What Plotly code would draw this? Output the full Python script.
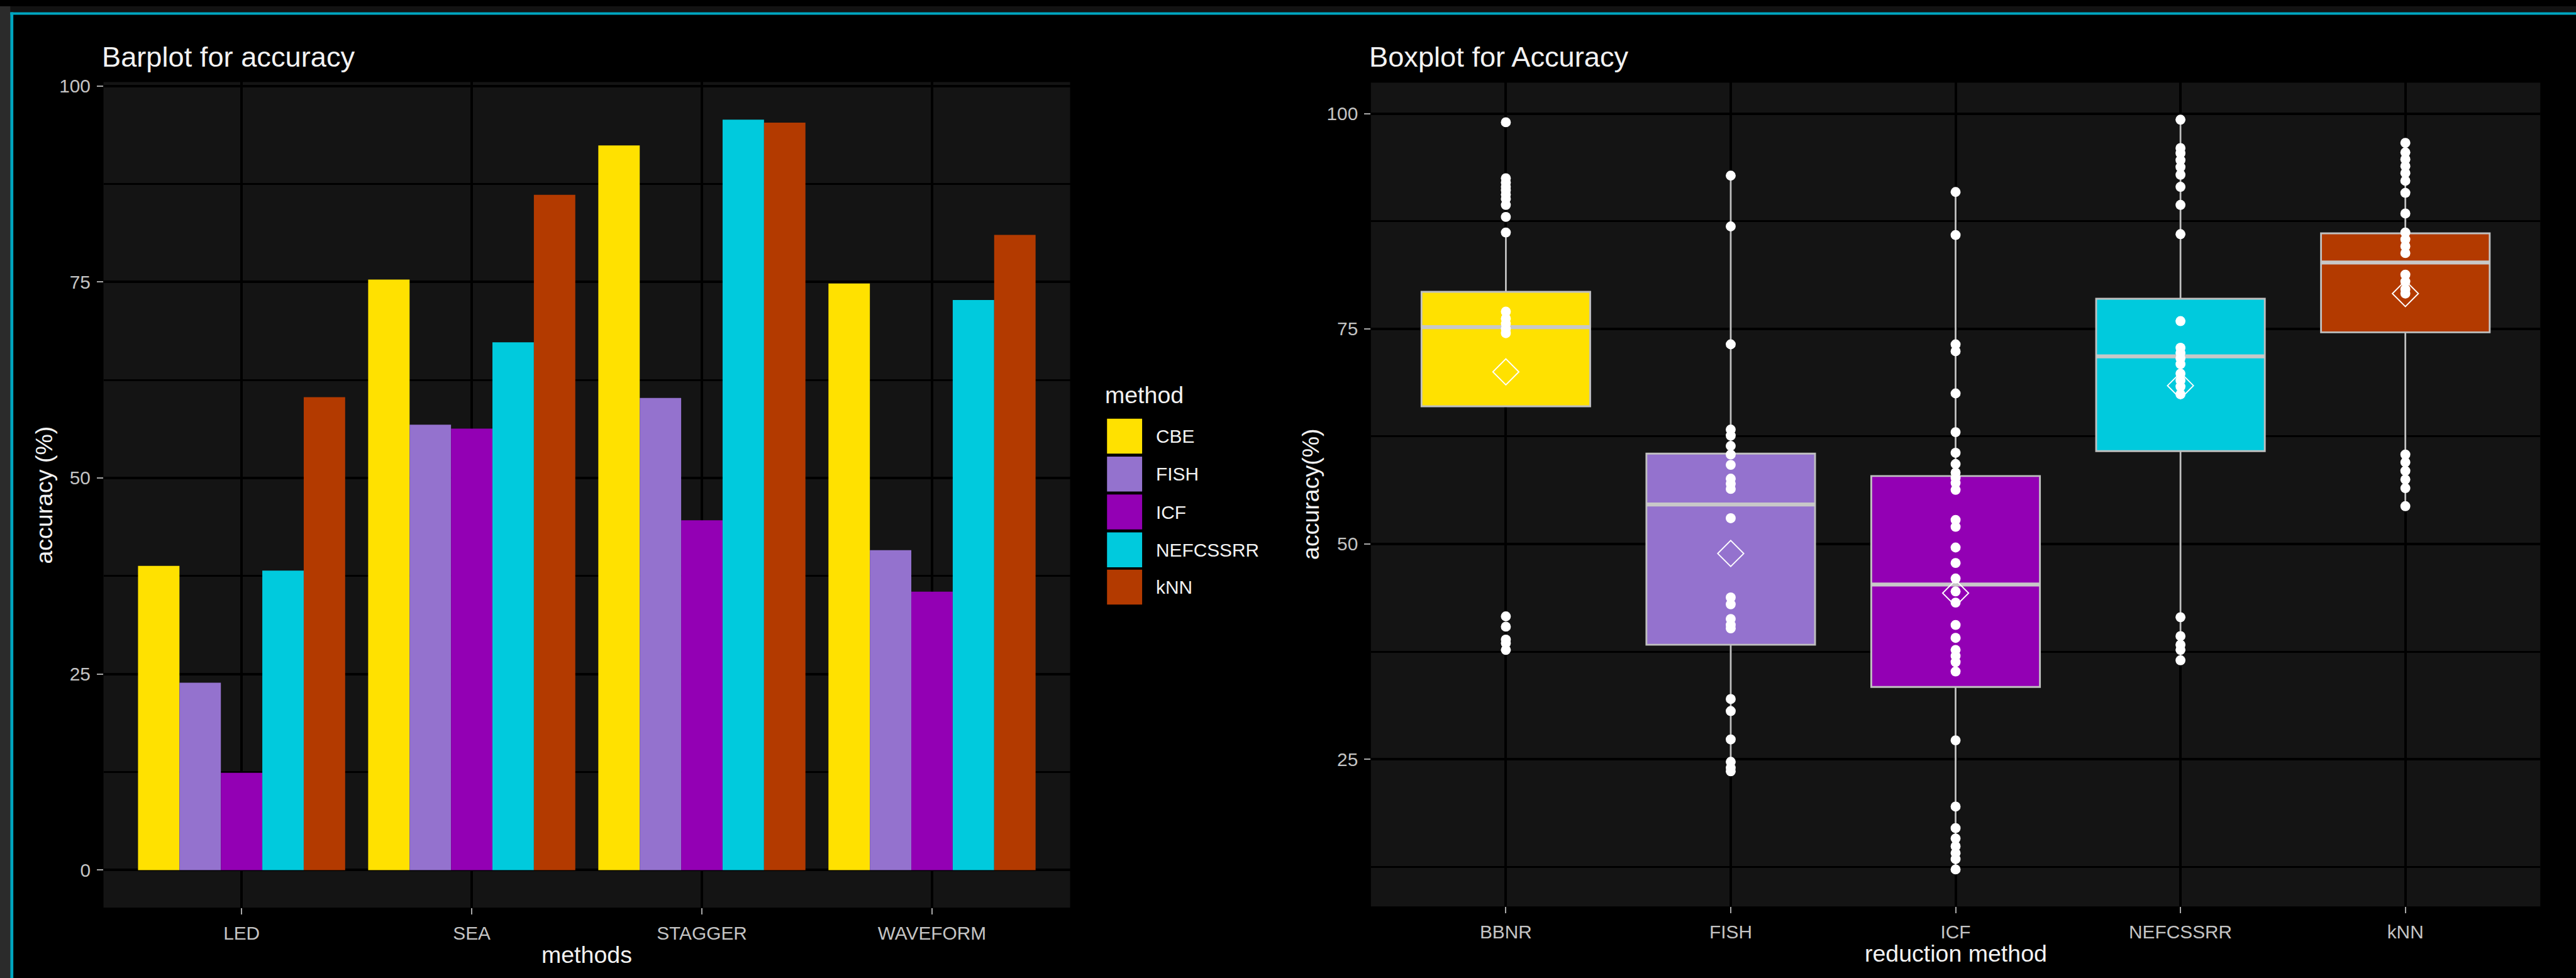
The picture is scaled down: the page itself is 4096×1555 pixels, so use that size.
import plotly.graph_objects as go

# ---------------- data ----------------
datasets = ["LED", "SEA", "STAGGER", "WAVEFORM"]
methods = ["CBE", "FISH", "ICF", "NEFCSSRR", "kNN"]
acc_cbe = [38.8, 75.3, 92.4, 74.8]
acc_fish = [23.9, 56.8, 60.2, 40.8]
acc_icf = [12.4, 56.3, 44.6, 35.5]
acc_nefcssrr = [38.2, 67.3, 95.7, 72.7]
acc_knn = [60.3, 86.1, 95.3, 81.0]
bar_values = [acc_cbe, acc_fish, acc_icf, acc_nefcssrr, acc_knn]

reduction = ["BBNR", "FISH", "ICF", "NEFCSSRR", "kNN"]
box_q1 = [66.0, 38.3, 33.4, 60.8, 74.6]
box_median = [75.2, 54.6, 45.3, 71.8, 82.7]
box_q3 = [79.3, 60.5, 57.9, 78.5, 86.1]
box_lower = [66.0, 23.6, 12.2, 36.5, 54.4]
box_upper = [86.2, 92.8, 90.9, 99.3, 96.6]
box_mean = [70.0, 48.9, 44.3, 68.4, 79.1]

pts_bbnr = [99.0, 92.5, 92.0, 91.5, 91.1, 90.6, 90.1, 89.4, 88.0, 86.2,
            77.0, 76.2, 75.6, 75.0, 74.5, 41.6, 40.4, 38.9, 38.5, 37.7]
pts_fish = [92.8, 86.9, 73.2, 63.3, 62.6, 61.4, 60.4, 59.2, 57.6, 57.0, 56.4,
            53.0, 43.8, 43.0, 41.3, 40.6, 40.2, 32.0, 30.6, 27.3, 24.7, 24.0, 23.6]
pts_icf = [90.9, 85.9, 73.2, 72.4, 67.5, 63.0, 60.6, 59.3, 58.3, 57.7, 57.1,
           56.3, 52.8, 52.0, 49.6, 47.8, 46.0, 44.5, 43.2, 40.6, 39.1, 37.7,
           37.0, 36.3, 35.2, 27.2, 19.5, 17.0, 15.8, 14.9, 14.1, 13.4, 12.2]
pts_nefcssrr = [99.3, 96.0, 95.4, 94.6, 93.8, 92.9, 91.5, 89.4, 86.0, 75.9,
                72.8, 72.2, 71.6, 70.9, 69.8, 69.0, 68.3, 67.4, 41.5, 39.3,
                38.3, 37.7, 36.5]
pts_knn = [96.6, 95.5, 94.7, 93.9, 93.1, 92.2, 90.8, 88.4, 86.2, 85.4, 84.6,
           83.8, 81.3, 80.5, 79.6, 79.1, 60.4, 59.5, 58.5, 57.5, 56.5, 54.4]
box_points = [pts_bbnr, pts_fish, pts_icf, pts_nefcssrr, pts_knn]

left_yticks = [0, 25, 50, 75, 100]
right_yticks = [25, 50, 75, 100]

# ---------------- style ----------------
COLORS = ["#FFE100", "#9472CE", "#9300B4", "#00CADD", "#B33A00"]
W, H = 4096, 1555
RW, RH = 4256.0, 1616.0          # layout drafted in these units
S = W / RW
FONT = "Liberation Sans, Arial, Helvetica, sans-serif"
TICK_COL = "#C4C4C4"
TITLE_COL = "#F2F2F2"
PANEL_BG = "#141414"
GRID = "#000000"
BOX_LINE = "#C0C0C0"


def px(x):
    return x / RW


def py(y):
    return 1 - y / RH


fig = go.Figure()

# ---------------- left: grouped bars ----------------
for name, vals, col in zip(methods, bar_values, COLORS):
    fig.add_trace(go.Bar(
        x=datasets, y=vals, name=name, marker=dict(color=col, line=dict(width=0)),
        xaxis="x", yaxis="y", showlegend=False,
    ))

# ---------------- right: box plots ----------------
BOX_W = 0.75
for i, cat in enumerate(reduction):
    fig.add_trace(go.Box(
        x=[i], q1=[box_q1[i]], median=[box_median[i]], q3=[box_q3[i]],
        lowerfence=[box_lower[i]], upperfence=[box_upper[i]],
        width=BOX_W, whiskerwidth=0, boxpoints=False,
        fillcolor=COLORS[i], line=dict(color=BOX_LINE, width=3 * S),
        xaxis="x2", yaxis="y2", showlegend=False, name=cat,
    ))

# thicker median bars
mx, my = [], []
for i, m in enumerate(box_median):
    mx += [i - BOX_W / 2, i + BOX_W / 2, None]
    my += [m, m, None]
fig.add_trace(go.Scatter(x=mx, y=my, mode="lines",
                         line=dict(color="#C8C8C8", width=6.5 * S),
                         xaxis="x2", yaxis="y2", showlegend=False, hoverinfo="skip"))

# mean markers
fig.add_trace(go.Scatter(
    x=list(range(len(reduction))), y=box_mean, mode="markers",
    marker=dict(symbol="diamond-open", size=33 * S, color="white",
                line=dict(width=2 * S, color="white")),
    xaxis="x2", yaxis="y2", showlegend=False,
))

# individual observations
for i, pts in enumerate(box_points):
    fig.add_trace(go.Scatter(
        x=[i] * len(pts), y=pts, mode="markers",
        marker=dict(color="white", size=16.5 * S, line=dict(width=0)),
        xaxis="x2", yaxis="y2", showlegend=False,
    ))

# ---------------- axes ----------------
common_axis = dict(
    showline=False, zeroline=False, ticks="outside", ticklen=10 * S,
    tickwidth=2 * S, tickcolor="#A8A8A8", gridcolor=GRID, gridwidth=4 * S,
    tickfont=dict(family=FONT, size=31 * S, color=TICK_COL),
)
minor_grid = dict(tickvals=[12.5, 37.5, 62.5, 87.5], showgrid=True,
                  gridcolor=GRID, gridwidth=3 * S, ticks="")

fig.update_layout(
    xaxis=dict(domain=[px(171), px(1768)], anchor="y", type="category",
               range=[-0.6, 3.6], showgrid=True, ticklabelstandoff=4,
               **common_axis),
    yaxis=dict(domain=[py(1499), py(126)], anchor="x",
               range=[-4.785, 100.485], tickvals=left_yticks,
               ticktext=[str(v) for v in left_yticks], showgrid=True,
               minor=minor_grid, ticklabelstandoff=4, **common_axis),
    xaxis2=dict(domain=[px(2265), px(4197)], anchor="y2",
                range=[-0.6, 4.6], tickvals=list(range(len(reduction))),
                ticktext=reduction, showgrid=True, ticklabelstandoff=4,
                **common_axis),
    yaxis2=dict(domain=[py(1497), py(127)], anchor="x2",
                range=[7.9, 103.6], tickvals=right_yticks,
                ticktext=[str(v) for v in right_yticks], showgrid=True,
                minor=minor_grid, ticklabelstandoff=4, **common_axis),
    barmode="group", bargap=0.1, bargroupgap=0,
    boxmode="overlay",
    plot_bgcolor=PANEL_BG, paper_bgcolor="#000000",
    width=W, height=H, autosize=False,
    margin=dict(l=0, r=0, t=0, b=0, pad=0),
    showlegend=False,
)

# ---------------- frame ----------------
shapes = [
    dict(type="rect", xref="paper", yref="paper", x0=0, x1=1, y0=py(10), y1=1,
         fillcolor="#131313", line=dict(width=0)),
    dict(type="rect", xref="paper", yref="paper", x0=0, x1=px(17), y0=0, y1=1,
         fillcolor="#2B2B2B", line=dict(width=0)),
    dict(type="rect", xref="paper", yref="paper", x0=px(17), x1=1, y0=py(14), y1=py(10),
         fillcolor="#00A6C0", line=dict(width=0)),
    dict(type="rect", xref="paper", yref="paper", x0=px(17), x1=px(22), y0=0, y1=py(10),
         fillcolor="#00A6C0", line=dict(width=0)),
]

# ---------------- legend ----------------
key_tops = [686, 749, 812, 875, 937]
KEY = 58
annotations = []
for name, col, top in zip(methods, COLORS, key_tops):
    shapes.append(dict(type="rect", xref="paper", yref="paper",
                       x0=px(1829), x1=px(1829 + KEY), y0=py(top + KEY), y1=py(top),
                       fillcolor=col, line=dict(width=0)))
    annotations.append(dict(text=name, xref="paper", yref="paper",
                            x=px(1908), y=py(top + KEY / 2), xanchor="left",
                            yanchor="middle", showarrow=False,
                            font=dict(family=FONT, size=31 * S, color=TITLE_COL)))
annotations.append(dict(text="method", xref="paper", yref="paper",
                        x=px(1824), y=py(646), xanchor="left", yanchor="middle",
                        showarrow=False,
                        font=dict(family=FONT, size=39 * S, color=TITLE_COL)))

# ---------------- titles ----------------
def label(text, x, y, size, anchor="center", angle=0):
    annotations.append(dict(text=text, xref="paper", yref="paper", x=px(x), y=py(y),
                            xanchor=anchor, yanchor="middle", showarrow=False,
                            textangle=angle,
                            font=dict(family=FONT, size=size * S, color=TITLE_COL)))


label("Barplot for accuracy", 166, 84, 47, anchor="left")
label("Boxplot for Accuracy", 2260, 84, 47, anchor="left")
label("methods", 969, 1577, 39)
label("reduction method", 3231, 1575, 39)
label("accuracy (%)", 73, 813, 39, angle=-90)
label("accuracy(%)", 2166, 812, 39, angle=-90)

fig.update_layout(shapes=shapes, annotations=annotations)

fig.write_html("out.html")
